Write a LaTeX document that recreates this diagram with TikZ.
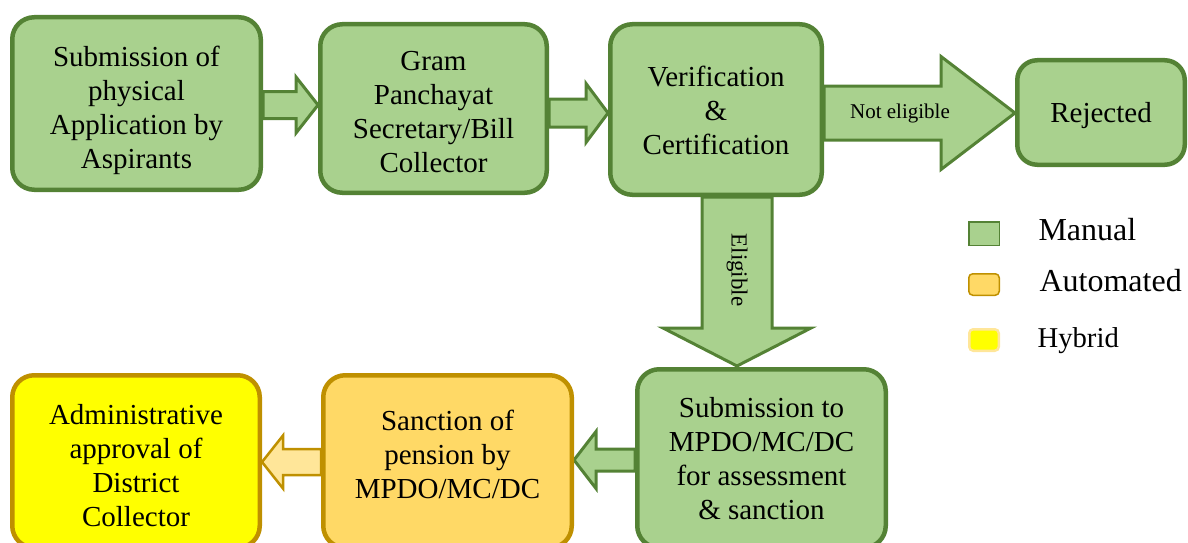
\documentclass[tikz,border=0pt]{standalone}
\usepackage{fontspec}
\setmainfont{Liberation Serif}
\usetikzlibrary{calc,backgrounds}
\definecolor{gfill}{HTML}{A9D18E}
\definecolor{gline}{HTML}{548235}
\definecolor{ofill}{HTML}{FFD966}
\definecolor{oline}{HTML}{BF9000}
\definecolor{yfill}{HTML}{FFFF00}
\definecolor{afill}{HTML}{FFE699}
% horizontal block arrow: style, tail, tip, shaft half, head half, head length (negative = leftward)
\newcommand\harrow[6]{\filldraw[#1] let \p1=(#2), \p2=(#3) in
  ({\x1},{\y2+#4}) -- ({\x2-(#6)},{\y2+#4}) -- ({\x2-(#6)},{\y2+#5}) -- ({\x2},{\y2}) --
  ({\x2-(#6)},{\y2-#5}) -- ({\x2-(#6)},{\y2-#4}) -- ({\x1},{\y2-#4}) -- cycle;}
% downward block arrow
\newcommand\varrow[6]{\filldraw[#1] let \p1=(#2), \p2=(#3) in
  ({\x2-#4},{\y1}) -- ({\x2-#4},{\y2+#6}) -- ({\x2-#5},{\y2+#6}) -- ({\x2},{\y2}) --
  ({\x2+#5},{\y2+#6}) -- ({\x2+#4},{\y2+#6}) -- ({\x2+#4},{\y1}) -- cycle;}
\tikzset{
  boxbase/.style={line width=4.5pt, rounded corners=22pt, inner sep=0pt},
  gbox/.style={boxbase, draw=gline, fill=gfill},
  obox/.style={boxbase, draw=oline, fill=ofill},
  ybox/.style={boxbase, draw=oline, fill=yfill},
  boxtext/.style={align=center, inner sep=0pt, font=\fontsize{29}{34}\selectfont},
  garrow/.style={draw=gline, fill=gfill, line width=3pt, miter limit=10},
  oarrow/.style={draw=oline, fill=afill, line width=2.5pt, miter limit=10},
  legtext/.style={anchor=base west, font=\fontsize{32}{38}\selectfont},
}
\begin{document}
\begin{tikzpicture}[x=1pt,y=-1pt]
\useasboundingbox (0,0) rectangle (1188,543);
% boxes
\node[gbox, minimum width=248.5pt, minimum height=172.5pt] (b1) at (136.5,103.5) {};
\node[gbox, minimum width=226.5pt, minimum height=168.5pt] (b2) at (433.5,108.5) {};
\node[gbox, minimum width=211.5pt, minimum height=170.5pt] (b3) at (716,109.5) {};
\node[gbox, rounded corners=20pt, minimum width=167.5pt, minimum height=104.5pt] (rej) at (1101,112.5) {};
\node[gbox, minimum width=248.5pt, minimum height=178.5pt] (b6) at (761.5,458.5) {};
\node[obox, minimum width=248.5pt, minimum height=172.5pt] (b7) at (447.5,461.5) {};
\node[ybox, minimum width=247.5pt, minimum height=172.5pt] (b8) at (136,461.5) {};
% box texts
\node[boxtext] (b1t) at ($(b1)+(0,6.5)$) {Submission of\\physical\\Application by\\Aspirants};
\node[boxtext] (b2t) at ($(b2)+(0,4)$) {Gram\\Panchayat\\Secretary/Bill\\Collector};
\node[boxtext] (b3t) at ($(b3)+(0,1)$) {Verification\\\&\\Certification};
\node[boxtext] (rejt) at ($(rej)+(0,3)$) {Rejected};
\node[boxtext] (b6t) at ($(b6)+(0,0)$) {Submission to\\MPDO/MC/DC\\for assessment\\\& sanction};
\node[boxtext] (b7t) at ($(b7)+(0,-7)$) {Sanction of\\pension by\\MPDO/MC/DC};
\node[boxtext] (b8t) at ($(b8)+(0,4)$) {Administrative\\approval of\\District\\Collector};
% arrows
\begin{scope}[on background layer]
\harrow{garrow}{b1.east}{$(b2.west)+(0,-3.5)$}{13.5pt}{28pt}{22pt}
\harrow{garrow}{b2.east}{$(b3.west)+(0,3.5)$}{14pt}{29.5pt}{22pt}
\harrow{garrow}{b3.east}{$(rej.west)+(0,0.5)$}{27pt}{56.5pt}{74pt}
\varrow{garrow}{b3.south}{$(b6.north)+(-24.5,-1)$}{35pt}{74pt}{38pt}
\harrow{garrow}{b6.west}{$(b7.east)+(0,-1.5)$}{11pt}{28.5pt}{-22pt}
\harrow{oarrow}{b7.west}{$(b8.east)+(0,0.5)$}{13pt}{26.5pt}{-21pt}
\end{scope}
% arrow labels
\node[font=\fontsize{21}{25}\selectfont] (ne) at (900,113) {Not eligible};
\node[rotate=-90, font=\fontsize{23}{27}\selectfont] (el) at (737,270) {Eligible};
% legend
\node[draw=gline, fill=gfill, line width=1.5pt, minimum width=30.5pt, minimum height=23.5pt, inner sep=0pt] (lm) at (984,233.5) {};
\node[draw=oline, fill=ofill, line width=1.5pt, rounded corners=4pt, minimum width=30.5pt, minimum height=21.5pt, inner sep=0pt] (la) at (984,284.5) {};
\node[draw=afill, fill=yfill, line width=2.5pt, rounded corners=4pt, minimum width=29.5pt, minimum height=21.5pt, inner sep=0pt] (lh) at (984,340) {};
\node[legtext] (tm) at (1035,240) {Manual};
\node[legtext] (ta) at (1036,291) {Automated};
\node[legtext, font=\fontsize{28.7}{34}\selectfont] (th) at (1034,347) {Hybrid};
\end{tikzpicture}
\end{document}
